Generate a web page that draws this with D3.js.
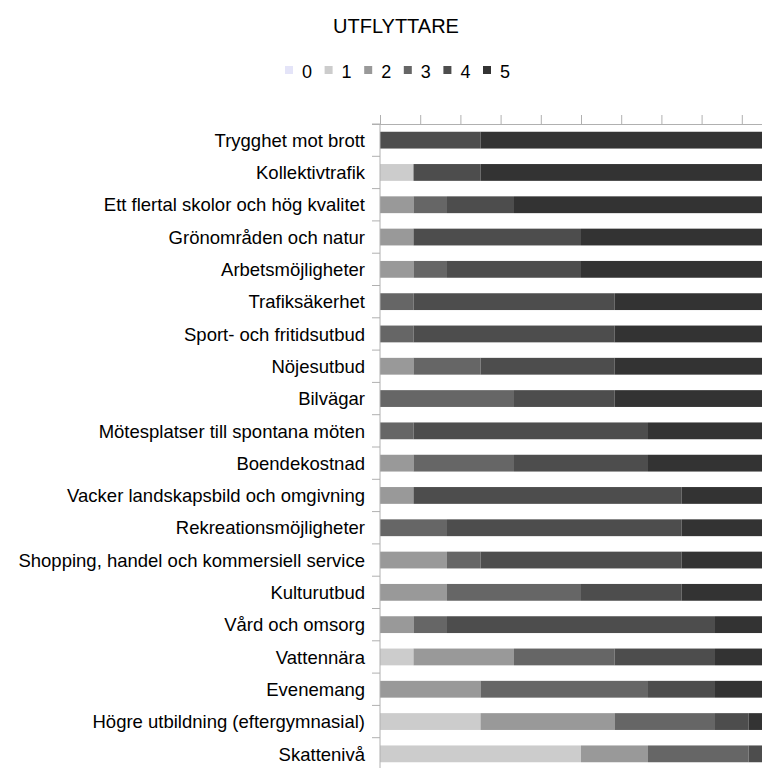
<!DOCTYPE html>
<html>
<head>
<meta charset="utf-8">
<script src="https://cdn.jsdelivr.net/npm/d3@7"></script>
<style>
  html, body { margin: 0; padding: 0; background: #fff; }
  svg { display: block; }
  text { font-family: "Liberation Sans", Arial, sans-serif; fill: #000; }
</style>
</head>
<body>
<svg id="chart" width="762" height="769"></svg>
<script>
const title = "UTFLYTTARE";
const categories = [
  "Trygghet mot brott",
  "Kollektivtrafik",
  "Ett flertal skolor och hög kvalitet",
  "Grönområden och natur",
  "Arbetsmöjligheter",
  "Trafiksäkerhet",
  "Sport- och fritidsutbud",
  "Nöjesutbud",
  "Bilvägar",
  "Mötesplatser till spontana möten",
  "Boendekostnad",
  "Vacker landskapsbild och omgivning",
  "Rekreationsmöjligheter",
  "Shopping, handel och kommersiell service",
  "Kulturutbud",
  "Vård och omsorg",
  "Vattennära",
  "Evenemang",
  "Högre utbildning (eftergymnasial)",
  "Skattenivå"
];
const seriesNames = ["0", "1", "2", "3", "4", "5"];
const s0 = [0,0,0,0,0,0,0,0,0,0,0,0,0,0,0,0,0,0,0,0];
const s1 = [0,1,0,0,0,0,0,0,0,0,0,0,0,0,0,0,1,0,3,6];
const s2 = [0,0,1,1,1,0,0,1,0,0,1,1,0,2,2,1,3,3,4,2];
const s3 = [0,0,1,0,1,1,1,2,4,1,3,0,2,1,4,1,3,5,3,3];
const s4 = [3,2,2,5,4,6,6,4,3,7,4,8,7,6,3,8,3,2,1,1];
const s5 = [9,9,8,6,6,5,5,5,5,4,4,3,3,3,3,2,2,2,1,0];
const colors = ["#e4e4f8", "#cccccc", "#999999", "#666666", "#4d4d4d", "#333333"];
const xTicks = [0,0.1,0.2,0.3,0.4,0.5,0.6,0.7,0.8,0.9,1.0];

const allSeries = [s0, s1, s2, s3, s4, s5];
const rows = categories.map((c, i) => {
  const r = { cat: c };
  seriesNames.forEach((k, j) => r[k] = allSeries[j][i]);
  return r;
});

const svg = d3.select("#chart");
const mLeft = 380, mRight = 782, mTop = 124, mBottom = 770;

const x = d3.scaleLinear().domain([0, 1]).range([mLeft, mRight]);
const y = d3.scaleBand().domain(categories).range([mTop, mBottom]).paddingInner(0.48).paddingOuter(0.24);

const stacked = d3.stack().keys(seriesNames).offset(d3.stackOffsetExpand)(rows);
const color = d3.scaleOrdinal().domain(seriesNames).range(colors);

// title
svg.append("text").attr("x", 396).attr("y", 33).attr("text-anchor", "middle")
  .style("font-size", "20px").text(title);

// legend
const lg = svg.append("g");
seriesNames.forEach((k, i) => {
  const gx = 285 + i * 39.6;
  lg.append("rect").attr("x", gx).attr("y", 66).attr("width", 8).attr("height", 8).attr("fill", color(k));
  lg.append("text").attr("x", gx + 17).attr("y", 77.5).style("font-size", "18px").text(k);
});

// bars
svg.append("g").selectAll("g").data(stacked).join("g")
  .attr("fill", d => color(d.key))
  .selectAll("rect").data(d => d).join("rect")
  .attr("x", d => x(d[0]))
  .attr("width", d => Math.max(0, x(d[1]) - x(d[0])))
  .attr("y", d => y(d.data.cat))
  .attr("height", y.bandwidth());

// top axis
const axTop = svg.append("g").attr("transform", `translate(0,${mTop})`)
  .call(d3.axisTop(x).tickValues(xTicks).tickSize(9).tickFormat(""));
axTop.select(".domain").attr("stroke", "#b0b0b0").attr("d", `M${mLeft - 8},0.5H${mRight}`);
axTop.selectAll(".tick line").attr("stroke", "#b0b0b0");

// left axis line with ticks at band boundaries
const axLeft = svg.append("g");
axLeft.append("line").attr("x1", mLeft).attr("x2", mLeft).attr("y1", mTop).attr("y2", mBottom - 2)
  .attr("stroke", "#b0b0b0");
const boundaries = d3.range(categories.length + 1).map(i => mTop + i * y.step());
axLeft.selectAll("line.tk").data(boundaries).join("line").attr("class", "tk")
  .attr("x1", mLeft - 8).attr("x2", mLeft).attr("y1", d => d).attr("y2", d => d)
  .attr("stroke", "#b0b0b0");

// category labels
svg.append("g").selectAll("text").data(categories).join("text")
  .attr("x", 365).attr("y", d => y(d) + y.bandwidth() / 2)
  .attr("dy", "0.36em").attr("text-anchor", "end")
  .style("font-size", "18.5px").text(d => d);
</script>
</body>
</html>
